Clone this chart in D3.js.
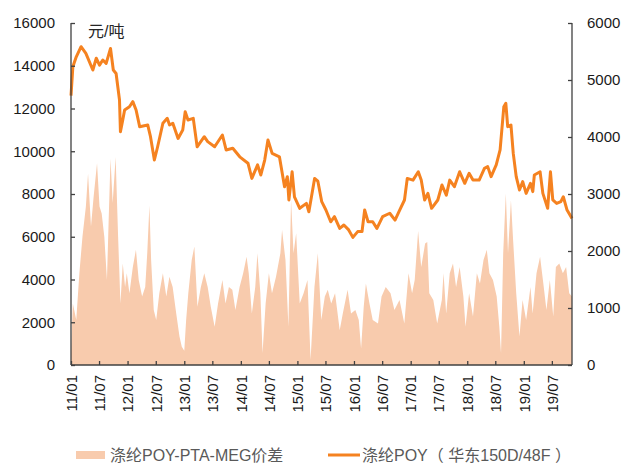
<!DOCTYPE html>
<html>
<head>
<meta charset="utf-8">
<script src="https://cdn.jsdelivr.net/npm/d3@7"></script>
<style>
  body { margin: 0; background: #fff; }
  svg text { font-family: "Liberation Sans", Arial, "Noto Sans CJK SC", sans-serif; }
</style>
</head>
<body>
<div id="chart"></div>
<script>
// 涤纶POY (华东150D/48F), 元/吨, left axis
const poyDates = [
  "2011-01-01","2011-01-13","2011-02-04","2011-03-07","2011-04-07","2011-05-22","2011-06-13","2011-07-04",
  "2011-07-25","2011-08-16","2011-09-13","2011-10-01","2011-10-19","2011-11-10","2011-11-16","2011-12-01",
  "2011-12-13","2012-01-13","2012-02-04","2012-02-25","2012-03-19","2012-05-10","2012-05-28","2012-06-22",
  "2012-07-13","2012-08-16","2012-09-13","2012-09-28","2012-10-19","2012-11-22","2012-12-22","2013-01-07",
  "2013-01-25","2013-02-28","2013-03-25","2013-05-10","2013-06-01","2013-07-16","2013-09-04","2013-09-28",
  "2013-11-10","2013-12-25","2014-02-16","2014-03-13","2014-04-19","2014-05-10","2014-06-04","2014-06-25",
  "2014-07-22","2014-09-07","2014-10-10","2014-10-28","2014-11-07","2014-11-28","2014-12-13","2015-01-16",
  "2015-02-28","2015-03-16","2015-04-22","2015-05-13","2015-06-07","2015-07-04","2015-08-04","2015-08-28",
  "2015-10-01","2015-10-28","2015-11-28","2015-12-25","2016-01-25","2016-02-22","2016-03-10","2016-04-01",
  "2016-05-01","2016-05-28","2016-07-04","2016-08-19","2016-09-22","2016-10-22","2016-11-22","2016-12-10",
  "2017-01-16","2017-02-19","2017-03-10","2017-04-01","2017-04-22","2017-05-16","2017-06-25","2017-07-22",
  "2017-08-19","2017-09-10","2017-10-10","2017-11-13","2017-12-16","2018-01-13","2018-02-07","2018-03-19",
  "2018-04-22","2018-05-13","2018-06-04","2018-07-07","2018-08-01","2018-08-25","2018-09-07","2018-09-19",
  "2018-10-10","2018-10-25","2018-11-13","2018-12-04","2018-12-25","2019-01-16","2019-02-13","2019-02-28",
  "2019-03-10","2019-04-16","2019-05-04","2019-06-04","2019-06-22","2019-07-07","2019-08-01","2019-08-28",
  "2019-09-13","2019-10-07","2019-11-08"
];
const poyValues = [
  12600,13950,14420,14890,14580,13800,14350,14030,
  14270,14110,14810,13800,13640,12400,10910,11460,
  11930,12080,12320,11930,11150,11230,10680,9590,
  10210,11310,11540,11230,11310,10600,10990,11850,
  11460,11540,10210,10680,10450,10210,10760,10060,
  10140,9740,9440,8730,9360,8890,9590,10530,
  9900,9740,8340,8810,7720,9040,7870,7330,
  7560,7170,8730,8600,7640,7250,6700,6940,
  6390,6550,6320,5970,6240,6240,7250,6700,
  6700,6390,6940,7100,6780,7250,7720,8730,
  8650,9040,8650,7720,8030,7330,7720,8420,
  7950,8650,8340,9040,8500,8970,8650,8650,
  9200,9280,8810,9360,10060,12080,12240,11150,
  11230,9900,8810,8190,8580,8030,8500,8110,
  8890,9040,8030,7330,9040,7720,7560,7640,
  7870,7250,6860
];

// 涤纶POY-PTA-MEG价差, right axis
const spreadDates = [
  "2011-01-01","2011-01-13","2011-02-04","2011-02-24","2011-03-16","2011-04-07","2011-04-21","2011-05-10",
  "2011-05-27","2011-06-18","2011-07-04","2011-07-18","2011-08-04","2011-08-21","2011-09-01","2011-09-13",
  "2011-09-27","2011-10-16","2011-11-01","2011-11-16","2011-12-01","2011-12-16","2011-12-27","2012-01-13",
  "2012-02-04","2012-02-24","2012-03-13","2012-04-04","2012-04-24","2012-05-07","2012-05-21","2012-06-01",
  "2012-06-18","2012-07-04","2012-07-24","2012-08-16","2012-09-07","2012-09-27","2012-10-18","2012-11-10",
  "2012-12-01","2012-12-16","2013-01-01","2013-01-13","2013-01-27","2013-02-18","2013-03-07","2013-03-27",
  "2013-04-18","2013-05-10","2013-06-01","2013-06-21","2013-07-16","2013-08-07","2013-09-04","2013-09-24",
  "2013-10-16","2013-11-07","2013-11-27","2013-12-24","2014-01-16","2014-02-07","2014-02-21","2014-03-13",
  "2014-04-04","2014-04-18","2014-05-07","2014-05-21","2014-06-10","2014-07-01","2014-07-21","2014-08-16",
  "2014-09-13","2014-09-24","2014-10-16","2014-11-04","2014-11-21","2014-12-07","2014-12-24","2015-01-16",
  "2015-02-10","2015-03-07","2015-03-27","2015-04-21","2015-05-13","2015-06-04","2015-06-27","2015-07-16",
  "2015-08-07","2015-09-01","2015-10-01","2015-10-21","2015-11-21","2015-12-13","2016-01-10","2016-02-01",
  "2016-02-16","2016-03-04","2016-03-18","2016-04-10","2016-05-01","2016-06-04","2016-06-27","2016-07-24",
  "2016-08-24","2016-09-18","2016-10-21","2016-11-21","2016-12-18","2017-01-10","2017-01-27","2017-02-18",
  "2017-03-10","2017-04-04","2017-04-18","2017-05-01","2017-05-27","2017-06-21","2017-07-21","2017-08-01",
  "2017-08-18","2017-09-10","2017-10-01","2017-10-21","2017-11-13","2017-12-07","2017-12-21","2018-01-13",
  "2018-02-07","2018-03-04","2018-03-24","2018-04-16","2018-05-07","2018-05-24","2018-06-16","2018-07-10",
  "2018-07-27","2018-08-07","2018-08-21","2018-09-07","2018-09-21","2018-10-10","2018-10-24","2018-11-13",
  "2018-12-04","2018-12-24","2019-01-16","2019-02-13","2019-02-27","2019-03-24","2019-04-16","2019-05-07",
  "2019-05-27","2019-06-18","2019-07-10","2019-07-27","2019-08-18","2019-09-10","2019-10-01","2019-10-21",
  "2019-11-08"
];
const spreadValues = [
  200,1080,790,1610,2250,2780,3360,2430,
  2950,3540,2780,2660,2250,1490,2540,3620,
  2840,3650,2250,1080,1780,1370,1610,1260,
  1720,2020,1490,1200,1370,1960,2800,1840,
  965,790,1260,1610,1200,1550,1370,905,
  500,320,250,790,1260,1840,2080,1020,
  1370,1610,1370,1020,670,1080,1490,1080,
  1370,1320,965,1370,1610,1900,1610,905,
  1370,1960,1260,205,1080,1610,1260,1550,
  1960,2370,1840,670,2900,1960,2310,1080,
  1260,1490,90,1370,1960,790,1200,1320,
  1080,1260,610,905,1320,905,965,790,
  290,1020,1430,1080,790,730,1200,1370,
  1260,965,1140,730,1610,1260,1490,2350,
  1720,2130,2160,1260,1140,730,1140,1610,
  905,1610,1780,1370,1720,1200,670,1260,
  850,1610,1430,1840,2020,1610,1490,1200,
  670,205,1960,3010,1960,2890,2190,1260,
  500,1140,790,1370,905,1610,1900,1430,
  965,1490,850,1720,1780,1610,1720,1260,
  1200
];

const leftTicks = [0, 2000, 4000, 6000, 8000, 10000, 12000, 14000, 16000];
const rightTicks = [0, 1000, 2000, 3000, 4000, 5000, 6000];
const seriesNames = ["涤纶POY-PTA-MEG价差", "涤纶POY（ 华东150D/48F ）"];
const unitLabel = "元/吨";

let width = 624;
let height = 466;
let margin = { left: 71, right: 52, top: 23, bottom: 101 };

let parse = d3.timeParse("%Y-%m-%d");
let poy = poyDates.map((d, i) => ({ date: parse(d), value: poyValues[i] }));
let spread = spreadDates.map((d, i) => ({ date: parse(d), value: spreadValues[i] }));

let svg = d3.select('#chart').append('svg')
  .attr('width', width)
  .attr('height', height);

let x = d3.scaleTime()
  .domain([parse("2011-01-01"), parse("2019-11-08")])
  .range([margin.left, width - margin.right]);
let yLeft = d3.scaleLinear().domain([0, 16000]).range([height - margin.bottom, margin.top]);
let yRight = d3.scaleLinear().domain([0, 6000]).range([height - margin.bottom, margin.top]);

let areaColor = "#f8cbad";
let lineColor = "#f58220";
let axisColor = "#404040";

// spread area
svg.append("path")
  .datum(spread)
  .attr("fill", areaColor)
  .attr("d", d3.area()
    .x(d => x(d.date))
    .y0(yRight(0))
    .y1(d => yRight(d.value)));

// POY line
svg.append("path")
  .datum(poy)
  .attr("fill", "none")
  .attr("stroke", lineColor)
  .attr("stroke-width", 3)
  .attr("stroke-linejoin", "round")
  .attr("d", d3.line()
    .x(d => x(d.date))
    .y(d => yLeft(d.value)));

// axes
let gLeft = svg.append("g")
  .attr("transform", "translate(" + margin.left + ",0)")
  .call(d3.axisLeft(yLeft).tickValues(leftTicks).tickSize(-4).tickPadding(16).tickFormat(d3.format("d")));
let gRight = svg.append("g")
  .attr("transform", "translate(" + (width - margin.right) + ",0)")
  .call(d3.axisRight(yRight).tickValues(rightTicks).tickSize(-4).tickPadding(15).tickFormat(d3.format("d")));
let gBottom = svg.append("g")
  .attr("transform", "translate(0," + (height - margin.bottom) + ")")
  .call(d3.axisBottom(x).ticks(d3.timeMonth.every(6)).tickSize(-4).tickFormat(d3.timeFormat("%y/%m")));

gBottom.selectAll("text")
  .attr("transform", "rotate(-90)")
  .attr("text-anchor", "end")
  .attr("x", -10)
  .attr("y", 0)
  .attr("dy", "0.35em");

[gLeft, gRight, gBottom].forEach(g => {
  g.selectAll(".domain").attr("stroke", axisColor).attr("stroke-width", 1.3);
  g.selectAll(".tick line").attr("stroke", axisColor).attr("stroke-width", 1.3);
  g.selectAll("text").attr("font-size", 15).attr("fill", "#1a1a1a");
});
gLeft.select(".domain").attr("d", "M0," + margin.top + "V" + (height - margin.bottom));
gRight.select(".domain").attr("d", "M0," + margin.top + "V" + (height - margin.bottom));
gBottom.select(".domain").attr("d", "M" + margin.left + ",0H" + (width - margin.right));

// unit label
svg.append("text")
  .attr("x", 88)
  .attr("y", 37)
  .attr("font-size", 16)
  .attr("fill", "#262626")
  .text(unitLabel);

// legend
let legend = svg.append("g");
legend.append("rect")
  .attr("x", 76).attr("y", 451).attr("width", 29).attr("height", 8)
  .attr("fill", areaColor);
legend.append("text")
  .attr("x", 110).attr("y", 461)
  .attr("font-size", 16).attr("fill", "#595959")
  .text(seriesNames[0]);
legend.append("line")
  .attr("x1", 328).attr("x2", 360).attr("y1", 455).attr("y2", 455)
  .attr("stroke", lineColor).attr("stroke-width", 3);
legend.append("text")
  .attr("x", 362).attr("y", 461)
  .attr("font-size", 16).attr("fill", "#595959")
  .attr("xml:space", "preserve")
  .style("white-space", "pre")
  .text(seriesNames[1]);
</script>
</body>
</html>
